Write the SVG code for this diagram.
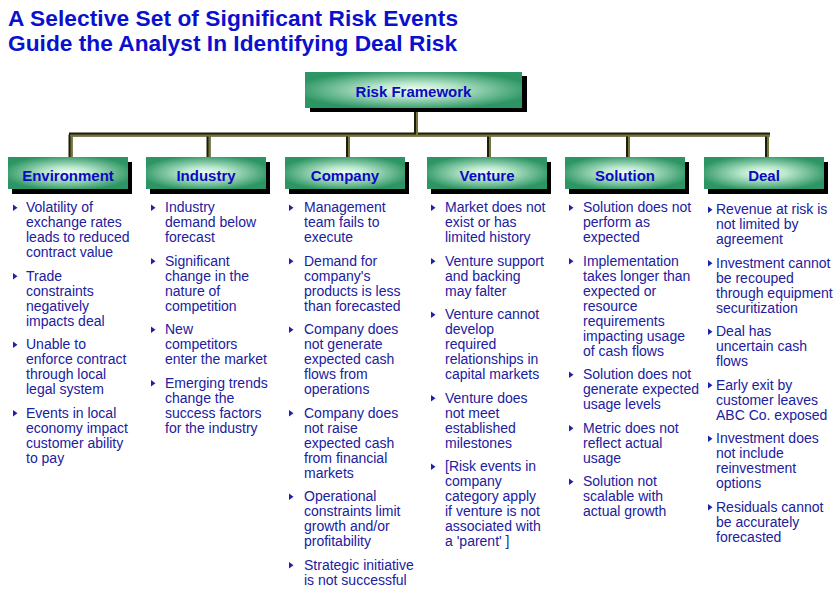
<svg xmlns="http://www.w3.org/2000/svg" width="838" height="592" viewBox="0 0 838 592">
<defs>
<radialGradient id="g" cx="0.5" cy="0.5" r="0.55">
<stop offset="0" stop-color="#f2fff6"/>
<stop offset="0.35" stop-color="#b8e6cc"/>
<stop offset="1" stop-color="#2c9563"/>
</radialGradient>
<polygon id="b" points="0,-3.5 0,3 4.5,-0.25"/>
</defs>
<style>
.title{font-family:"Liberation Sans",Arial,sans-serif;font-weight:bold;font-size:22.7px;fill:#0a10cc}
.box{fill:url(#g)}
.sh{fill:#000}
.lbl{font-family:"Liberation Sans",Arial,sans-serif;font-weight:bold;font-size:15px;fill:#0a0ac0;text-anchor:middle}
.t{font-family:"Liberation Sans",Arial,sans-serif;font-size:14px;fill:#2020a0}
.bu{fill:#2020a8}
.cd{fill:none;stroke:#1e1e08;stroke-width:4}
.co{fill:none;stroke:#74743c;stroke-width:2}
</style>
<rect width="838" height="592" fill="#ffffff"/>
<text class="title" x="8" y="26" textLength="450" lengthAdjust="spacing">A Selective Set of Significant Risk Events</text>
<text class="title" x="8" y="51" textLength="449" lengthAdjust="spacing">Guide the Analyst In Identifying Deal Risk</text>

<g id="connectors">
<path class="cd" d="M416 110 V134.5 M69 134.5 H770 M70.5 134.5 V157 M208.5 134.5 V157 M348 134.5 V157 M489 134.5 V157 M628 134.5 V157 M767 134.5 V157"/>
<path class="co" d="M417 110 V135.5 M70 135.5 H770 M71.5 135.5 V157 M209.5 135.5 V157 M349 135.5 V157 M490 135.5 V157 M629 135.5 V157 M768 135.5 V157"/>
</g>

<g id="risk-framework">
<rect class="sh" x="310" y="76" width="217" height="36"/>
<rect class="box" x="305" y="72" width="217" height="36"/>
<text class="lbl" x="413.5" y="97">Risk Framework</text>
</g>

<g id="environment">
<rect class="sh" x="12" y="162" width="120" height="32"/>
<rect class="box" x="8" y="157" width="120" height="32"/>
<text class="lbl" x="68" y="180.5">Environment</text>
<g class="t">
<use href="#b" class="bu" x="13" y="208"/>
<text x="26" y="212">Volatility of</text>
<text x="26" y="227">exchange rates</text>
<text x="26" y="242">leads to reduced</text>
<text x="26" y="257">contract value</text>
<use href="#b" class="bu" x="13" y="276.5"/>
<text x="26" y="280.5">Trade</text>
<text x="26" y="295.5">constraints</text>
<text x="26" y="310.5">negatively</text>
<text x="26" y="325.5">impacts deal</text>
<use href="#b" class="bu" x="13" y="345"/>
<text x="26" y="349">Unable to</text>
<text x="26" y="364">enforce contract</text>
<text x="26" y="379">through local</text>
<text x="26" y="394">legal system</text>
<use href="#b" class="bu" x="13" y="413.5"/>
<text x="26" y="417.5">Events in local</text>
<text x="26" y="432.5">economy impact</text>
<text x="26" y="447.5">customer ability</text>
<text x="26" y="462.5">to pay</text>
</g>
</g>

<g id="industry">
<rect class="sh" x="150" y="162" width="120" height="32"/>
<rect class="box" x="146" y="157" width="120" height="32"/>
<text class="lbl" x="206" y="180.5">Industry</text>
<g class="t">
<use href="#b" class="bu" x="151" y="208"/>
<text x="165" y="212">Industry</text>
<text x="165" y="227">demand below</text>
<text x="165" y="242">forecast</text>
<use href="#b" class="bu" x="151" y="261.5"/>
<text x="165" y="265.5">Significant</text>
<text x="165" y="280.5">change in the</text>
<text x="165" y="295.5">nature of</text>
<text x="165" y="310.5">competition</text>
<use href="#b" class="bu" x="151" y="330"/>
<text x="165" y="334">New</text>
<text x="165" y="349">competitors</text>
<text x="165" y="364">enter the market</text>
<use href="#b" class="bu" x="151" y="383.5"/>
<text x="165" y="387.5">Emerging trends</text>
<text x="165" y="402.5">change the</text>
<text x="165" y="417.5">success factors</text>
<text x="165" y="432.5">for the industry</text>
</g>
</g>

<g id="company">
<rect class="sh" x="289" y="162" width="120" height="32"/>
<rect class="box" x="285" y="157" width="120" height="32"/>
<text class="lbl" x="345" y="180.5">Company</text>
<g class="t">
<use href="#b" class="bu" x="289" y="208"/>
<text x="304" y="212">Management</text>
<text x="304" y="227">team fails to</text>
<text x="304" y="242">execute</text>
<use href="#b" class="bu" x="289" y="261.5"/>
<text x="304" y="265.5">Demand for</text>
<text x="304" y="280.5">company's</text>
<text x="304" y="295.5">products is less</text>
<text x="304" y="310.5">than forecasted</text>
<use href="#b" class="bu" x="289" y="330"/>
<text x="304" y="334">Company does</text>
<text x="304" y="349">not generate</text>
<text x="304" y="364">expected cash</text>
<text x="304" y="379">flows from</text>
<text x="304" y="394">operations</text>
<use href="#b" class="bu" x="289" y="413.5"/>
<text x="304" y="417.5">Company does</text>
<text x="304" y="432.5">not raise</text>
<text x="304" y="447.5">expected cash</text>
<text x="304" y="462.5">from financial</text>
<text x="304" y="477.5">markets</text>
<use href="#b" class="bu" x="289" y="497"/>
<text x="304" y="501">Operational</text>
<text x="304" y="516">constraints limit</text>
<text x="304" y="531">growth and/or</text>
<text x="304" y="546">profitability</text>
<use href="#b" class="bu" x="289" y="565.5"/>
<text x="304" y="569.5">Strategic initiative</text>
<text x="304" y="584.5">is not successful</text>
</g>
</g>

<g id="venture">
<rect class="sh" x="431" y="162" width="120" height="32"/>
<rect class="box" x="427" y="157" width="120" height="32"/>
<text class="lbl" x="487" y="180.5">Venture</text>
<g class="t">
<use href="#b" class="bu" x="431" y="208"/>
<text x="445" y="212">Market does not</text>
<text x="445" y="227">exist or has</text>
<text x="445" y="242">limited history</text>
<use href="#b" class="bu" x="431" y="261.5"/>
<text x="445" y="265.5">Venture support</text>
<text x="445" y="280.5">and backing</text>
<text x="445" y="295.5">may falter</text>
<use href="#b" class="bu" x="431" y="315"/>
<text x="445" y="319">Venture cannot</text>
<text x="445" y="334">develop</text>
<text x="445" y="349">required</text>
<text x="445" y="364">relationships in</text>
<text x="445" y="379">capital markets</text>
<use href="#b" class="bu" x="431" y="398.5"/>
<text x="445" y="402.5">Venture does</text>
<text x="445" y="417.5">not meet</text>
<text x="445" y="432.5">established</text>
<text x="445" y="447.5">milestones</text>
<use href="#b" class="bu" x="431" y="467"/>
<text x="445" y="471">[Risk events in</text>
<text x="445" y="486">company</text>
<text x="445" y="501">category apply</text>
<text x="445" y="516">if venture is not</text>
<text x="445" y="531">associated with</text>
<text x="445" y="546">a 'parent' ]</text>
</g>
</g>

<g id="solution">
<rect class="sh" x="569" y="162" width="120" height="32"/>
<rect class="box" x="565" y="157" width="120" height="32"/>
<text class="lbl" x="625" y="180.5">Solution</text>
<g class="t">
<use href="#b" class="bu" x="569" y="208"/>
<text x="583" y="212">Solution does not</text>
<text x="583" y="227">perform as</text>
<text x="583" y="242">expected</text>
<use href="#b" class="bu" x="569" y="261.5"/>
<text x="583" y="265.5">Implementation</text>
<text x="583" y="280.5">takes longer than</text>
<text x="583" y="295.5">expected or</text>
<text x="583" y="310.5">resource</text>
<text x="583" y="325.5">requirements</text>
<text x="583" y="340.5">impacting usage</text>
<text x="583" y="355.5">of cash flows</text>
<use href="#b" class="bu" x="569" y="375"/>
<text x="583" y="379">Solution does not</text>
<text x="583" y="394">generate expected</text>
<text x="583" y="409">usage levels</text>
<use href="#b" class="bu" x="569" y="428.5"/>
<text x="583" y="432.5">Metric does not</text>
<text x="583" y="447.5">reflect actual</text>
<text x="583" y="462.5">usage</text>
<use href="#b" class="bu" x="569" y="482"/>
<text x="583" y="486">Solution not</text>
<text x="583" y="501">scalable with</text>
<text x="583" y="516">actual growth</text>
</g>
</g>

<g id="deal">
<rect class="sh" x="708" y="162" width="120" height="32"/>
<rect class="box" x="704" y="157" width="120" height="32"/>
<text class="lbl" x="764" y="180.5">Deal</text>
<g class="t">
<use href="#b" class="bu" x="708" y="210"/>
<text x="716" y="214">Revenue at risk is</text>
<text x="716" y="229">not limited by</text>
<text x="716" y="244">agreement</text>
<use href="#b" class="bu" x="708" y="263.5"/>
<text x="716" y="267.5">Investment cannot</text>
<text x="716" y="282.5">be recouped</text>
<text x="716" y="297.5">through equipment</text>
<text x="716" y="312.5">securitization</text>
<use href="#b" class="bu" x="708" y="332"/>
<text x="716" y="336">Deal has</text>
<text x="716" y="351">uncertain cash</text>
<text x="716" y="366">flows</text>
<use href="#b" class="bu" x="708" y="385.5"/>
<text x="716" y="389.5">Early exit by</text>
<text x="716" y="404.5">customer leaves</text>
<text x="716" y="419.5">ABC Co. exposed</text>
<use href="#b" class="bu" x="708" y="439"/>
<text x="716" y="443">Investment does</text>
<text x="716" y="458">not include</text>
<text x="716" y="473">reinvestment</text>
<text x="716" y="488">options</text>
<use href="#b" class="bu" x="708" y="507.5"/>
<text x="716" y="511.5">Residuals cannot</text>
<text x="716" y="526.5">be accurately</text>
<text x="716" y="541.5">forecasted</text>
</g>
</g>
</svg>
